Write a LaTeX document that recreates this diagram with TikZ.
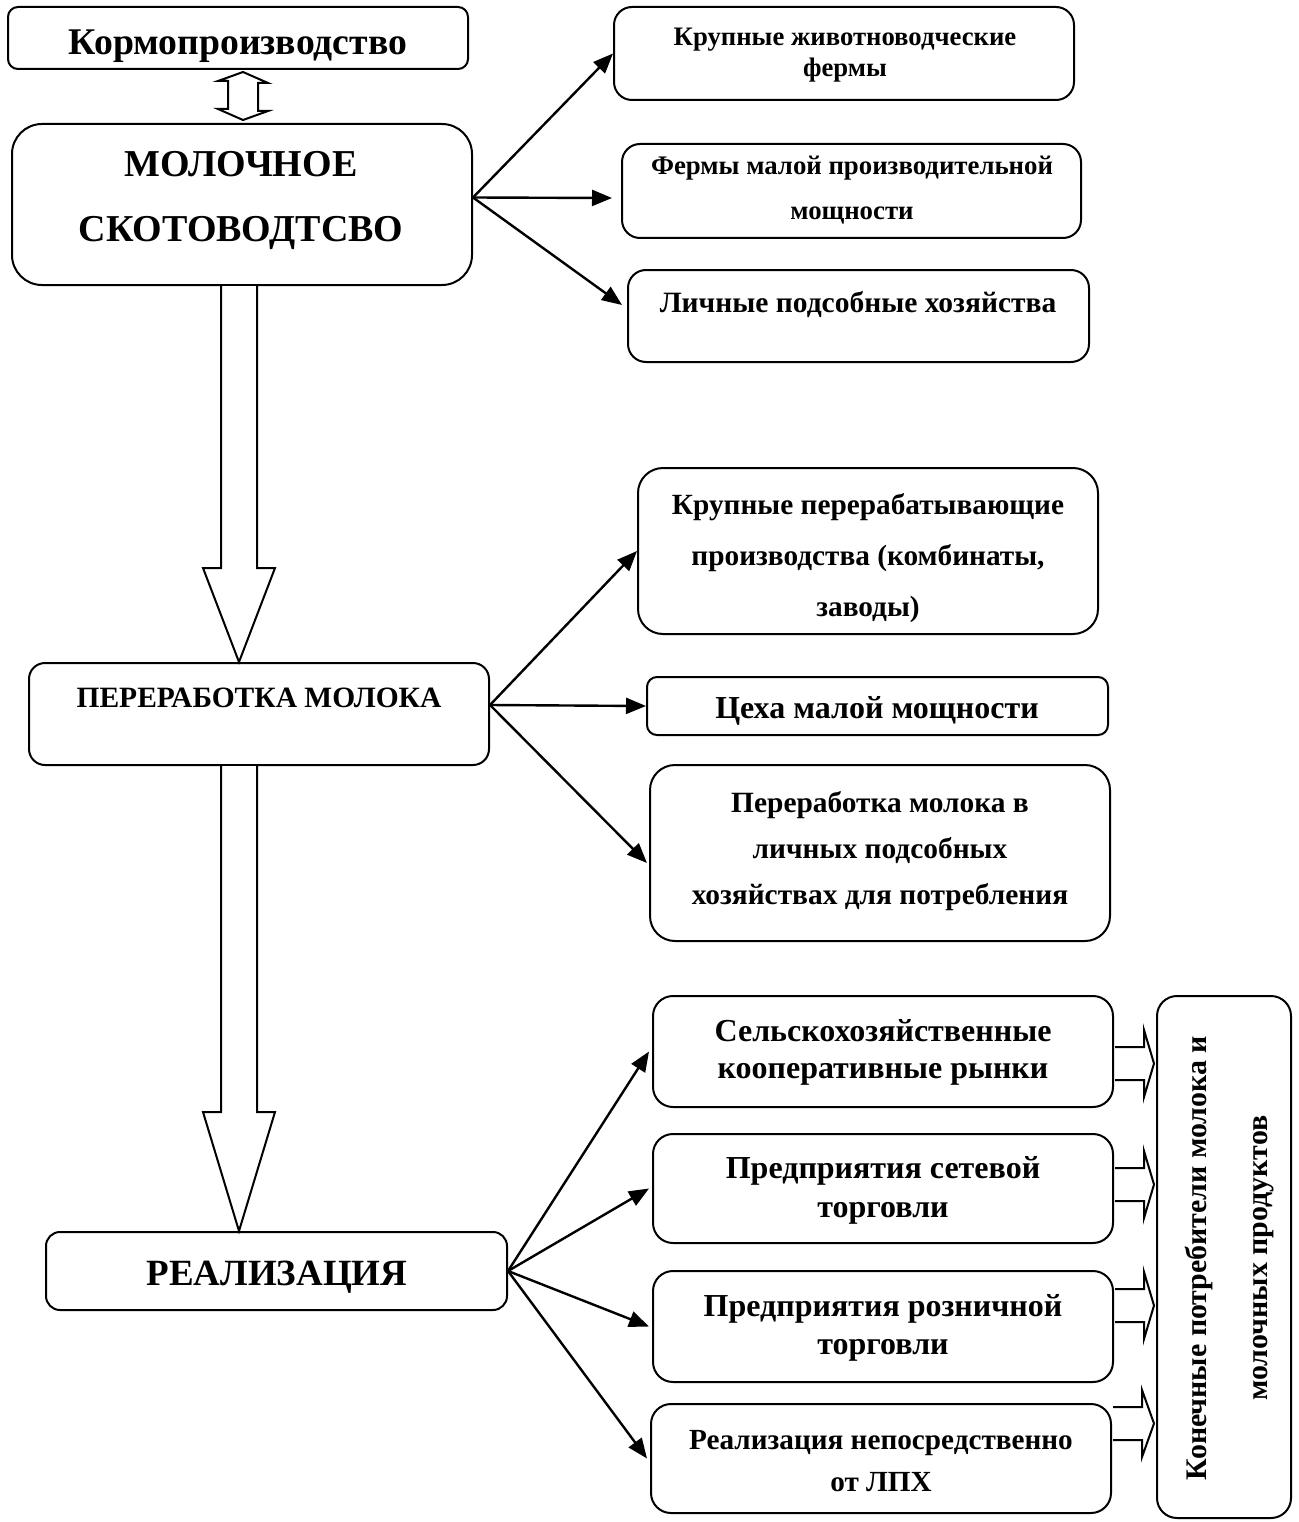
\documentclass[tikz,border=0pt]{standalone}
\usepackage{fontspec}
\setmainfont{Liberation Serif}
\usetikzlibrary{calc,arrows.meta}
\newcommand{\fsz}[2]{\fontsize{#1}{#2}\selectfont}

\begin{document}
\begin{tikzpicture}[x=1pt, y=-1pt,
  box/.style={draw, line width=2pt, rounded corners=#1, inner sep=0pt},
  box/.default=18pt,
  txt/.style={align=center, inner sep=0pt, anchor=base},
  arr/.style={line width=2.4pt, -{Triangle[length=20pt,width=16pt]}},
  blk/.style={draw, line width=2pt, fill=white, line join=miter}]
\useasboundingbox (0,0) rectangle (1298,1522);
% left column (text nodes sit on the baseline of their last line)
\node[box=10pt, minimum width=460pt, minimum height=62pt] (kormo) at (238,38) {};
\node[box=30pt, minimum width=460pt, minimum height=161pt] (mol) at (242,204.5) {};
\node[box=16pt, minimum width=460pt, minimum height=102pt] (per) at (259,714) {};
\node[box=14pt, minimum width=461pt, minimum height=78pt] (real) at (276.5,1271) {};
\node[txt, font={\bfseries\fsz{37.7}{44}}] (kormo-t) at (238,55) {Кормопроизводство};
\node[txt, font={\bfseries\fsz{38}{65}}] (mol-t) at (241,242) {МОЛОЧНОЕ\\СКОТОВОДТСВО};
\node[txt, font={\bfseries\fsz{29.5}{34}}] (per-t) at (259,707) {ПЕРЕРАБОТКА МОЛОКА};
\node[txt, font={\bfseries\fsz{37}{44}}] (real-t) at (277,1285) {РЕАЛИЗАЦИЯ};
% farms
\node[box, minimum width=460pt, minimum height=93pt] (a1) at (844,53.5) {};
\node[box, minimum width=459pt, minimum height=94pt] (a2) at (851.5,191) {};
\node[box, minimum width=461pt, minimum height=92pt] (a3) at (858.5,316) {};
\node[txt, font={\bfseries\fsz{26.7}{31}}] (a1-t) at (845,77) {Крупные животноводческие\\фермы};
\node[txt, font={\bfseries\fsz{26.8}{45}}] (a2-t) at (852,220) {Фермы малой производительной\\мощности};
\node[txt, font={\bfseries\fsz{29.5}{34}}] (a3-t) at (858,312) {Личные подсобные хозяйства};
% processing
\node[box=25pt, minimum width=460pt, minimum height=166pt] (b1) at (868,551) {};
\node[box=10pt, minimum width=461pt, minimum height=58pt] (b2) at (877.5,706) {};
\node[box=25pt, minimum width=460pt, minimum height=176pt] (b3) at (880,853) {};
\node[txt, font={\bfseries\fsz{29.3}{51}}] (b1-t) at (868,616) {Крупные перерабатывающие\\производства (комбинаты,\\заводы)};
\node[txt, font={\bfseries\fsz{32}{38}}] (b2-t) at (877,718) {Цеха малой мощности};
\node[txt, font={\bfseries\fsz{29.4}{46}}] (b3-t) at (880,904) {Переработка молока в\\личных подсобных\\хозяйствах для потребления};
% sales
\node[box=20pt, minimum width=460pt, minimum height=111pt] (c1) at (883,1051.5) {};
\node[box=20pt, minimum width=460pt, minimum height=109pt] (c2) at (883,1188.5) {};
\node[box=20pt, minimum width=460pt, minimum height=111pt] (c3) at (883,1326.5) {};
\node[box=20pt, minimum width=460pt, minimum height=109pt] (c4) at (881,1458.5) {};
\node[txt, font={\bfseries\fsz{32}{37}}] (c1-t) at (883,1078) {Сельскохозяйственные\\кооперативные рынки};
\node[txt, font={\bfseries\fsz{32}{39}}] (c2-t) at (883,1217) {Предприятия сетевой\\торговли};
\node[txt, font={\bfseries\fsz{32}{38}}] (c3-t) at (883,1354) {Предприятия розничной\\торговли};
\node[txt, font={\bfseries\fsz{29.2}{42}}] (c4-t) at (881,1491) {Реализация непосредственно\\от ЛПХ};
\node[box=20pt, minimum width=134pt, minimum height=522pt] (cons) at (1224,1257) {};
\node[txt, anchor=center, rotate=90, font={\bfseries\fsz{29.9}{61}}] (cons-t) at (1230,1258) {Конечные потребители молока и\\молочных продуктов};

% block arrows
\coordinate (ax) at (239,0);
\coordinate (dx) at (243,0);
\draw[blk] ($(dx |- kormo.south)+(0,2)$) -- ++(25,11) -- ++(-10,0) -- ++(0,28) -- ++(10,0)
  -- ($(dx |- mol.north)+(0,-3)$) -- ++(-25,-11) -- ++(10,0) -- ++(0,-28) -- ++(-10,0) -- cycle;
\draw[blk] ($(ax |- mol.south)+(-18,0)$) -- ($(ax |- per.north)+(-18,-94)$) -- ++(-18,0) -- (ax |- per.north)
  -- ($(ax |- per.north)+(36,-94)$) -- ++(-18,0) -- ($(ax |- mol.south)+(18,0)$);
\draw[blk] ($(ax |- per.south)+(-18,0)$) -- ($(ax |- real.north)+(-18,-119)$) -- ++(-18,0) -- (ax |- real.north)
  -- ($(ax |- real.north)+(36,-119)$) -- ++(-18,0) -- ($(ax |- per.south)+(18,0)$);
\foreach \c/\dy in {c1/12,c2/-4,c3/-21,c4/-35}{
  \draw[blk] ($(\c.east)+(1,\dy-16.5)$) -- ++(29,0) -- ++(0,-17) -- ($(cons.west |- \c.east)+(-2,\dy)$)
    -- ($(\c.east)+(30,\dy+33.5)$) -- ++(0,-17) -- ++(-29,0);
}

% thin arrows
\coordinate (mol-r) at ($(mol.east)+(0,-7)$);
\coordinate (per-r) at ($(per.east)+(0,-9)$);
\draw[arr] (mol-r) -- (a1.west);
\draw[arr] (mol-r) -- ($(a2.west)+(-9,7)$);
\draw[arr] (mol-r) -- ($(a3.west)+(-5,-11)$);
\draw[arr] (per-r) -- (b1.west);
\draw[arr] (per-r) -- (b2.west);
\draw[arr] (per-r) -- ($(b3.west)+(-2,10)$);
\foreach \c in {c1,c2,c3,c4}
  \draw[arr] (real.east) -- ($(\c.west)+(-3,0)$);
\end{tikzpicture}
\end{document}
